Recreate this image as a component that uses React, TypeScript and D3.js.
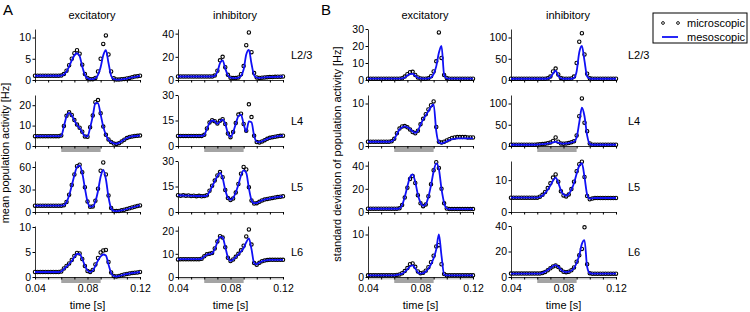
import React, { useEffect, useRef } from 'react'
import * as d3 from 'd3'

// sampling times [s]
const time = [
  0.040, 0.042, 0.044, 0.046, 0.048, 0.050, 0.052, 0.054, 0.056, 0.058,
  0.060, 0.062, 0.064, 0.066, 0.068, 0.070, 0.072, 0.074, 0.076, 0.078,
  0.080, 0.082, 0.084, 0.086, 0.088, 0.090, 0.092, 0.094, 0.096, 0.098,
  0.100, 0.102, 0.104, 0.106, 0.108, 0.110, 0.112, 0.114, 0.116, 0.118, 0.120,
]

const columnTitles = ['excitatory', 'inhibitory', 'excitatory', 'inhibitory']
const layerLabels = ['L2/3', 'L4', 'L5', 'L6']
const xTicks = [0.04, 0.05, 0.06, 0.07, 0.08, 0.09, 0.1, 0.11, 0.12]
const xTickLabels = [0.04, 0.08, 0.12]
const stimulus = [0.06, 0.09]

// ---- A: mean population activity [Hz] ----
const meanExcL23Meso = [1, 1, 1, 1, 1, 1, 1, 1, 1, 1,
  1.05, 1.3, 2.0, 3.2, 4.6, 5.8, 6.3, 5.6, 3.2, 1.2, 0.4, 0.2, 0.2, 0.4, 1.2, 3.0, 5.8, 7.0, 4.0, 1.0,
  0.2, 0.1, 0.1, 0.15, 0.25, 0.35, 0.5, 0.6, 0.75, 0.85, 0.95]
const meanExcL23Micro = [1, 1, 1, 1, 1, 1, 1, 1, 1, 1,
  1.05, 1.4, 2.2, 3.5, 5.0, 6.3, 7.0, 6.2, 3.6, 1.4, 0.5, 0.2, 0.2, 0.5, 2.0, 5.0, 8.5, 10.5, 6.0, 2.0,
  0.4, 0.1, 0.1, 0.15, 0.25, 0.35, 0.5, 0.65, 0.8, 0.9, 1.0]
const meanInhL23Meso = [3, 3, 3, 3, 3, 3, 3, 3, 3, 3, 3, 3, 3, 3,
  3.5, 7, 14.5, 17, 10, 4, 2, 1.7, 1.7, 2, 3.5, 9, 22, 26, 14, 4, 2,
  1.8, 2, 2.2, 2.4, 2.5, 2.6, 2.7, 2.8, 2.9, 3.0]
const meanInhL23Micro = [3, 3, 3, 3, 3, 3, 3, 3, 3, 3, 3, 3, 3, 3,
  3.8, 8, 17, 20, 11, 4.5, 2, 1.7, 1.7, 2.2, 5, 12, 30, 41, 24, 6, 2.2,
  1.8, 2, 2.2, 2.4, 2.5, 2.6, 2.7, 2.8, 2.9, 3.0]

const meanExcL4Meso = [4.8, 4.8, 4.8, 4.8, 4.8, 4.8, 4.8, 4.8, 4.8, 4.8,
  5.0, 9.5, 14.5, 16.2, 15.0, 12.5, 10.3, 8.8, 6.8, 4.8, 4.6, 9.0, 14.5, 21, 21, 15.5, 9.5, 5.5, 3.0, 2.0,
  1.3, 1.1, 1.5, 2.3, 3.2, 3.9, 4.4, 4.7, 4.9, 5.0, 5.1]
const meanExcL4Micro = [4.8, 4.8, 4.8, 4.8, 4.8, 4.8, 4.8, 4.8, 4.8, 4.8,
  5.1, 9.8, 14.8, 16.5, 15.2, 12.7, 10.5, 9.0, 7.0, 4.7, 4.5, 9.2, 15, 21.5, 22.5, 16, 9.5, 5.5, 3.2, 2.0,
  1.2, 1.0, 1.4, 2.2, 3.1, 3.9, 4.4, 4.7, 4.9, 5.0, 5.1]
const meanInhL4Meso = [5.9, 5.9, 5.9, 5.9, 5.9, 5.9, 5.9, 5.9, 5.9, 5.9,
  6.5, 10, 13.5, 15, 14.5, 13, 14.5, 15.5, 13, 7.5, 5.3, 8, 13, 17.5, 18.5, 13, 8.5, 14.5, 14, 6,
  2.5, 2.3, 2.8, 3.5, 4.2, 4.8, 5.2, 5.5, 5.8, 6.0, 6.1]
const meanInhL4Micro = [5.9, 5.9, 5.9, 5.9, 5.9, 5.9, 5.9, 5.9, 5.9, 5.9,
  6.6, 10.3, 13.8, 15.2, 14.6, 13.2, 14.8, 15.8, 13, 7.3, 5.2, 8.2, 13.5, 18.5, 19, 13, 9, 24.5, 17, 6,
  2.3, 2.1, 2.7, 3.4, 4.2, 4.8, 5.2, 5.5, 5.8, 6.0, 6.1]

const meanExcL5Meso = [8.5, 8.5, 8.5, 8.5, 8.5, 8.5, 8.5, 8.5, 8.5, 8.5, 8.5,
  9.0, 13, 22, 35, 49, 60, 62, 52, 32, 14, 7, 7.5, 14, 28, 47, 56, 44, 20, 5,
  1.5, 1.2, 1.5, 2.2, 3, 4, 5, 6, 7, 8, 8.8]
const meanExcL5Micro = [8.5, 8.5, 8.5, 8.5, 8.5, 8.5, 8.5, 8.5, 8.5, 8.5, 8.5,
  9.0, 13.5, 23, 36, 50, 61, 63, 53, 33, 14, 7, 7.5, 15, 31, 55, 66, 50, 22, 5.5,
  1.5, 1.2, 1.5, 2.2, 3, 4, 5, 6, 7, 8, 8.8]
const meanInhL5Meso = [9.8, 9.7, 9.7, 9.6, 9.6, 9.5, 9.5, 9.4, 9.4, 9.3, 9.3,
  9.6, 12, 15, 18, 21, 23, 20, 13, 8.5, 7.2, 8.2, 11.5, 16, 21.5, 24.5, 23, 14, 7, 5.2,
  5.3, 6, 6.8, 7.3, 7.7, 8, 8.3, 8.6, 8.8, 9.0, 9.2]
const meanInhL5Micro = [9.9, 9.6, 9.8, 9.5, 9.7, 9.4, 9.6, 9.3, 9.5, 9.2, 9.4,
  9.8, 12.5, 15.5, 18.5, 21.5, 23.5, 20.5, 13, 8.2, 7.0, 8.0, 11.5, 16.5, 22.5, 26.5, 25, 14.5, 6.8, 5.0,
  5.2, 6, 6.8, 7.3, 7.7, 8, 8.3, 8.6, 8.8, 9.0, 9.2]

const meanExcL6Meso = [1, 1, 1, 1, 1, 1, 1, 1, 1, 1,
  1.1, 1.6, 2.1, 2.6, 3.2, 4.0, 4.6, 4.6, 3.6, 2.3, 1.3, 1.0, 1.3, 2.2, 3.3, 4.1, 4.5, 4.3, 2.5, 0.8,
  0.2, 0.1, 0.2, 0.35, 0.5, 0.6, 0.7, 0.8, 0.85, 0.9, 1.0]
const meanExcL6Micro = [1, 1, 1, 1, 1, 1, 1, 1, 1, 1,
  1.1, 1.7, 2.2, 2.7, 3.4, 4.2, 4.8, 4.7, 3.6, 2.2, 1.2, 1.0, 1.4, 2.5, 3.8, 4.9, 5.3, 5.4, 3.0, 0.9,
  0.2, 0.1, 0.2, 0.35, 0.5, 0.6, 0.7, 0.8, 0.85, 0.9, 1.0]
const meanInhL6Meso = [7.6, 7.7, 7.7, 7.7, 7.7, 7.7, 7.7, 7.7, 7.7,
  7.9, 8.8, 9.6, 9.9, 10.2, 12, 15, 17.3, 17, 13, 8.5, 7, 7.6, 8.6, 9.8, 11, 12.5, 15, 16.7, 12, 6,
  5.5, 6.2, 6.8, 7.1, 7.3, 7.4, 7.4, 7.4, 7.4, 7.4, 7.4]
const meanInhL6Micro = [7.6, 7.7, 7.7, 7.7, 7.7, 7.7, 7.7, 7.7, 7.7,
  7.9, 8.9, 9.8, 10, 10.4, 12.3, 15.3, 17.6, 17, 12.8, 8.3, 6.9, 7.6, 8.7, 10, 11.5, 13.5, 17.5, 20.5, 14, 6,
  5.3, 6.1, 6.8, 7.1, 7.3, 7.4, 7.4, 7.4, 7.4, 7.4, 7.4]

// ---- B: standard deviation of population activity [Hz] ----
const sdExcL23Meso = [0.8, 0.8, 0.8, 0.8, 0.8, 0.8, 0.8, 0.8, 0.8, 0.8, 0.8, 0.8, 0.8,
  0.9, 1.5, 2.6, 3.5, 3.6, 2.5, 1.3, 0.9, 0.8, 0.8, 0.9, 1.5, 3.5, 8, 16, 20, 3, 1,
  0.8, 0.8, 0.8, 0.8, 0.8, 0.8, 0.8, 0.8, 0.8, 0.8]
const sdExcL23Micro = [0.8, 0.8, 0.8, 0.8, 0.8, 0.8, 0.8, 0.8, 0.8, 0.8, 0.8, 0.8, 0.8,
  1.0, 2.0, 3.4, 4.6, 4.8, 3.0, 1.5, 0.9, 0.8, 0.8, 1.0, 2.2, 5.0, 11, 28, 13, 3, 1.2,
  0.8, 0.8, 0.8, 0.8, 0.8, 0.8, 0.8, 0.8, 0.8, 0.8]
const sdInhL23Meso = [3, 3, 3, 3, 3, 3, 3, 3, 3, 3, 3, 3, 3, 3,
  3.5, 6, 15, 22, 10, 4, 3, 3, 3, 3, 5, 20, 65, 80, 45, 8, 3.5,
  3, 3, 3, 3, 3, 3, 3, 3, 3, 3]
const sdInhL23Micro = [3, 3, 3, 3, 3, 3, 3, 3, 3, 3, 3, 3, 3, 3,
  4, 8, 20, 27, 13, 5, 3, 3, 3, 3.5, 8, 40, 90, 110, 60, 15, 4,
  3, 3, 3, 3, 3, 3, 3, 3, 3, 3]

const sdExcL4Meso = [1, 1, 1, 1, 1, 1, 1, 1, 1,
  1.1, 1.6, 2.8, 3.9, 4.4, 4.6, 4.4, 4.0, 3.4, 3.1, 3.6, 5.0, 6.2, 7.2, 8.2, 9.2, 9.8, 3.5, 0.8, 0.6, 0.8,
  1.1, 1.4, 1.6, 1.7, 1.8, 1.8, 1.8, 1.8, 1.8, 1.8, 1.8]
const sdExcL4Micro = [1, 1, 1, 1, 1, 1, 1, 1, 1,
  1.1, 1.7, 3.0, 4.1, 4.6, 4.7, 4.4, 3.9, 3.3, 3.0, 3.6, 5.1, 6.4, 7.5, 8.6, 9.6, 10.5, 4.5, 1.0, 0.8, 1.0,
  1.3, 1.6, 1.9, 2.0, 2.1, 2.1, 2.1, 2.1, 2.0, 2.0, 2.0]
const sdInhL4Meso = [3, 3, 3, 3, 3, 3, 3, 3, 3, 3,
  3.3, 4, 4.5, 5, 6, 7, 8.5, 10, 8, 6, 5.5, 6, 7, 8.5, 10, 20, 55, 90, 70, 25, 5, 3,
  3, 3, 3, 3, 3, 3, 3, 3, 3]
const sdInhL4Micro = [3, 3, 3, 3, 3, 3, 3, 3, 3, 3,
  3.3, 4, 4.6, 5.2, 6.5, 8, 12, 20, 10, 6, 5.5, 6, 7, 9, 11, 25, 70, 112, 55, 35, 6, 3,
  3, 3, 3, 3, 3, 3, 3, 3, 3]

const sdExcL5Meso = [2.8, 2.8, 2.8, 2.8, 2.8, 2.8, 2.8, 2.8, 2.8, 2.8, 2.8, 2.8,
  3.2, 6, 13, 22, 30, 32.5, 26, 15, 8, 5.2, 6.5, 13, 23, 35, 42, 37, 20, 8, 3, 2.5,
  2.5, 2.5, 2.5, 2.5, 2.5, 2.5, 2.5, 2.5, 2.5]
const sdExcL5Micro = [2.8, 2.8, 2.8, 2.8, 2.8, 2.8, 2.8, 2.8, 2.8, 2.8, 2.8, 2.8,
  3.2, 6, 12.5, 21, 28.5, 31, 25, 14.5, 7.5, 5, 6.5, 13.5, 24, 36, 43, 38, 20, 7.5, 3, 2.5,
  2.5, 2.5, 2.5, 2.5, 2.5, 2.5, 2.5, 2.5, 2.5]
const sdInhL5Meso = [4.5, 4.5, 4.5, 4.5, 4.5, 4.5, 4.5, 4.5, 4.5, 4.5, 4.5,
  4.7, 5.2, 6, 7, 8.3, 9.8, 10.8, 9.2, 6.8, 5.5, 5.1, 5.6, 7, 9, 12, 14.5, 15.3, 11, 5.5,
  4.2, 4.3, 4.4, 4.4, 4.4, 4.4, 4.4, 4.4, 4.4, 4.4, 4.4]
const sdInhL5Micro = [4.5, 4.5, 4.5, 4.5, 4.5, 4.5, 4.5, 4.5, 4.5, 4.5, 4.5,
  4.8, 5.4, 6.3, 7.5, 9, 10.8, 11.8, 9.5, 6.5, 5.2, 4.9, 5.5, 7.2, 9.5, 12.8, 15, 15.8, 11, 5,
  4, 4.2, 4.4, 4.4, 4.4, 4.4, 4.4, 4.4, 4.4, 4.4, 4.4]

const sdExcL6Meso = [0.4, 0.4, 0.4, 0.4, 0.4, 0.4, 0.4, 0.4, 0.4, 0.4, 0.4,
  0.5, 0.6, 0.8, 1.2, 1.8, 2.5, 2.75, 2.0, 1.1, 0.8, 0.9, 1.3, 2.0, 3.0, 4.4, 6.5, 10, 5, 0.6, 0.4,
  0.4, 0.4, 0.4, 0.4, 0.4, 0.4, 0.4, 0.4, 0.4, 0.4]
const sdExcL6Micro = [0.4, 0.4, 0.4, 0.4, 0.4, 0.4, 0.4, 0.4, 0.4, 0.4, 0.4,
  0.5, 0.6, 0.9, 1.4, 2.1, 3.0, 3.2, 2.4, 1.3, 0.9, 1.0, 1.5, 2.3, 3.5, 5, 7.2, 7.5, 3, 0.7, 0.4,
  0.4, 0.4, 0.4, 0.4, 0.4, 0.4, 0.4, 0.4, 0.4, 0.4]
const sdInhL6Meso = [2.7, 2.7, 2.7, 2.7, 2.7, 2.7, 2.7, 2.7, 2.7, 2.7, 2.7, 2.7,
  3.2, 4.2, 5.5, 7, 8.5, 9.3, 8, 5.8, 4.3, 3.9, 4.2, 5, 7, 11, 17, 26, 29, 8, 3, 2.6,
  2.6, 2.6, 2.6, 2.6, 2.6, 2.6, 2.6, 2.6, 2.6]
const sdInhL6Micro = [2.7, 2.7, 2.7, 2.7, 2.7, 2.7, 2.7, 2.7, 2.7, 2.7, 2.7, 2.7,
  3.1, 4, 5.2, 6.8, 8.3, 9, 7.8, 5.6, 4.2, 3.8, 4.2, 5.2, 7.5, 12, 17, 22, 39, 10, 3, 2.6,
  2.6, 2.6, 2.6, 2.6, 2.6, 2.6, 2.6, 2.6, 2.6]

// per column: series for the four layers, y maximum and tick labels
const mesoByCol = [
  [meanExcL23Meso, meanExcL4Meso, meanExcL5Meso, meanExcL6Meso],
  [meanInhL23Meso, meanInhL4Meso, meanInhL5Meso, meanInhL6Meso],
  [sdExcL23Meso, sdExcL4Meso, sdExcL5Meso, sdExcL6Meso],
  [sdInhL23Meso, sdInhL4Meso, sdInhL5Meso, sdInhL6Meso],
]
const microByCol = [
  [meanExcL23Micro, meanExcL4Micro, meanExcL5Micro, meanExcL6Micro],
  [meanInhL23Micro, meanInhL4Micro, meanInhL5Micro, meanInhL6Micro],
  [sdExcL23Micro, sdExcL4Micro, sdExcL5Micro, sdExcL6Micro],
  [sdInhL23Micro, sdInhL4Micro, sdInhL5Micro, sdInhL6Micro],
]
const yMaxByCol = [
  [12, 25, 68, 10.2],
  [44, 30, 30, 22],
  [30, 12, 44, 12],
  [120, 120, 16, 40],
]
const yTicksByCol = [
  [[0, 5, 10], [0, 10, 20], [0, 30, 60], [0, 5, 10]],
  [[0, 20, 40], [0, 15, 30], [0, 15, 30], [0, 10, 20]],
  [[0, 10, 20, 30], [0, 10], [0, 20, 40], [0, 10]],
  [[0, 50, 100], [0, 50, 100], [0, 10], [0, 20, 40]],
]

const colLeft = [35, 178, 368, 511]
const rowTop = [29, 95, 161, 226]
const plotW = 105
const plotH = 51
const font = 'Liberation Sans, Arial, Helvetica, sans-serif'
const blue = '#1010f5'

function App() {
  const gRef = useRef<SVGGElement>(null)

  useEffect(() => {
    const root = d3.select(gRef.current)
    root.selectAll('*').remove()

    for (let c = 0; c < 4; c++) {
      for (let r = 0; r < 4; r++) {
        const x = d3.scaleLinear().domain([0.04, 0.12]).range([colLeft[c], colLeft[c] + plotW])
        const y = d3.scaleLinear().domain([0, yMaxByCol[c][r]]).range([rowTop[r] + plotH, rowTop[r]])
        const g = root.append('g')
        const bottom = y(0)

        // light strip under bottom axis
        if (r === 3) {
          g.append('rect')
            .attr('x', x(0.04)).attr('y', bottom + 0.5)
            .attr('width', x(0.12) - x(0.04)).attr('height', 2)
            .attr('fill', '#cdcdcd')
        }
        // stimulus bar
        if (r === 1 || r === 3) {
          g.append('rect')
            .attr('x', x(stimulus[0])).attr('y', bottom + 0.5)
            .attr('width', x(stimulus[1]) - x(stimulus[0])).attr('height', 5.5)
            .attr('fill', '#a4a4a4')
        }

        // x axis
        const xAxis = d3.axisBottom(x).tickValues(xTicks).tickSize(2.5).tickSizeOuter(0).tickPadding(5)
          .tickFormat((d) => (r === 3 && xTickLabels.some((v) => Math.abs(v - +d) < 1e-6)) ? String(+(+d).toFixed(2)) : '')
        const xg = g.append('g').attr('transform', `translate(0,${bottom})`).call(xAxis)
        xg.selectAll('text').attr('font-size', 10.5).attr('font-family', font).attr('fill', '#000')

        // y axis
        const yAxis = d3.axisLeft(y).tickValues(yTicksByCol[c][r]).tickSize(2.5).tickSizeOuter(0).tickPadding(1.5)
          .tickFormat(d3.format('d'))
        const yg = g.append('g').attr('transform', `translate(${colLeft[c]},0)`).call(yAxis)
        yg.selectAll('text').attr('font-size', 10.5).attr('font-family', font).attr('fill', '#000')
        g.selectAll('.domain').attr('stroke-width', 0.8)

        // microscopic: open circles
        g.append('g').selectAll('circle')
          .data(microByCol[c][r])
          .join('circle')
          .attr('cx', (d, i) => x(time[i]))
          .attr('cy', (d) => y(d))
          .attr('r', 1.7)
          .attr('fill', 'none')
          .attr('stroke', '#000')
          .attr('stroke-width', 1.1)

        // mesoscopic: blue line
        const line = d3.line<number>()
          .x((d, i) => x(time[i]))
          .y((d) => y(d))
          .curve(d3.curveMonotoneX)
        g.append('path')
          .attr('d', line(mesoByCol[c][r]))
          .attr('fill', 'none')
          .attr('stroke', blue)
          .attr('stroke-width', 1.8)
      }
    }
  }, [])

  return (
    <div style={{ position: 'absolute', left: 0, top: 0 }}>
      <svg width={750} height={312} style={{ display: 'block', background: '#fff' }} fontFamily={font}>
        <text x={3} y={15} fontSize={15}>A</text>
        <text x={321} y={15} fontSize={15}>B</text>
        {columnTitles.map((t, i) => (
          <text key={'t' + i} x={colLeft[i] + 57} y={19} fontSize={11} textAnchor="middle">{t}</text>
        ))}
        {layerLabels.map((l, i) => (
          <g key={'l' + i}>
            <text x={291} y={rowTop[i] + 30} fontSize={11}>{l}</text>
            <text x={628} y={rowTop[i] + 30} fontSize={11}>{l}</text>
          </g>
        ))}
        {colLeft.map((c, i) => (
          <text key={'x' + i} x={c + plotW / 2} y={309} fontSize={11} textAnchor="middle">time [s]</text>
        ))}
        <text transform="translate(8.5,153) rotate(-90)" fontSize={11} textAnchor="middle">mean population activity [Hz]</text>
        <text transform="translate(340.5,154) rotate(-90)" fontSize={11} textAnchor="middle">standard deviation of population activity [Hz]</text>
        <g ref={gRef} />
        {/* legend */}
        <rect x={653} y={13} width={94} height={30} fill="#fff" stroke="#000" strokeWidth={1} />
        <circle cx={663} cy={23} r={1.4} fill="none" stroke="#000" strokeWidth={0.9} />
        <circle cx={678} cy={23} r={1.4} fill="none" stroke="#000" strokeWidth={0.9} />
        <text x={687} y={27} fontSize={11}>microscopic</text>
        <line x1={662} x2={678} y1={37} y2={37} stroke={blue} strokeWidth={1.8} />
        <text x={687} y={41} fontSize={11}>mesoscopic</text>
      </svg>
    </div>
  )
}

export default App
